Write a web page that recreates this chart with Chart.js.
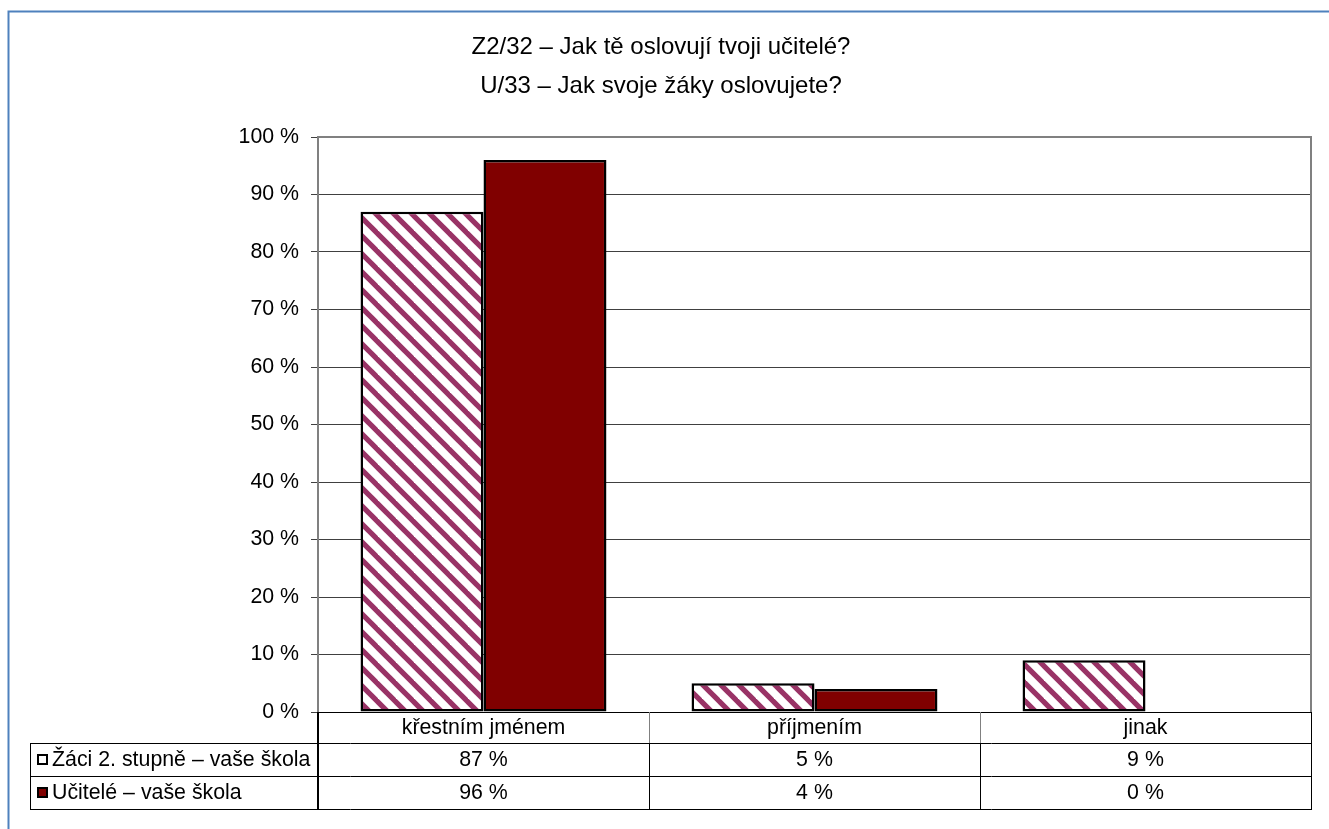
<!DOCTYPE html>
<html>
<head>
<meta charset="utf-8">
<script src="https://cdn.jsdelivr.net/npm/chart.js@4/dist/chart.umd.min.js"></script>
<style>
  html, body { margin: 0; padding: 0; background: #ffffff; }
  canvas { display: block; }
</style>
</head>
<body>
<canvas id="c" width="1329" height="829"></canvas>
<script>
// ---- data ----
const titleLines = ['Z2/32 – Jak tě oslovují tvoji učitelé?', 'U/33 – Jak svoje žáky oslovujete?'];
const categories = ['křestním jménem', 'příjmením', 'jinak'];
const seriesNames = ['Žáci 2. stupně – vaše škola', 'Učitelé – vaše škola'];
const zaciValues = [87, 5, 9];
const uciteleValues = [96, 4, 0];
const yTicks = [0, 10, 20, 30, 40, 50, 60, 70, 80, 90, 100];

// ---- styles ----
const FONT = 'Liberation Sans, Arial, sans-serif';
const FS = 21.33;
const stripeColor = '#993366';
const solidColor = '#800000';

function makePattern() {
  const p = document.createElement('canvas');
  const s = 18;
  p.width = s; p.height = s;
  const g = p.getContext('2d');
  g.fillStyle = '#ffffff';
  g.fillRect(0, 0, s, s);
  g.strokeStyle = stripeColor;
  g.lineWidth = 5.2;
  for (const off of [-s, 0, s]) {
    g.beginPath();
    g.moveTo(off - 2, -2);
    g.lineTo(off + s + 2, s + 2);
    g.stroke();
  }
  return g.createPattern(p, 'repeat');
}
const hatch = makePattern();

const CAT_ROW_H = 31;
const ROW_H = 33;
const TABLE_LEFT = 30;

const tablePlugin = {
  id: 'tablePlugin',
  beforeDraw(chart) {
    const c = chart.ctx;
    c.save();
    c.fillStyle = '#ffffff';
    c.fillRect(0, 0, chart.width, chart.height);
    c.restore();
  },
  afterDraw(chart) {
    const c = chart.ctx;
    const a = chart.chartArea;
    const xs = chart.scales.x;
    const n = categories.length;
    const catW = (a.right - a.left) / n;
    const y0 = a.bottom;
    const y1 = y0 + CAT_ROW_H;
    const y2 = y1 + ROW_H;
    const y3 = y2 + ROW_H;
    c.save();
    // outer blue border (chart frame)
    c.strokeStyle = '#4F81BD';
    c.lineWidth = 2;
    c.strokeRect(8.5, 11.5, chart.width + 20, chart.height + 20);

    // plot area border top/right
    c.strokeStyle = '#808080';
    c.lineWidth = 2;
    c.beginPath();
    c.moveTo(a.left, a.top);
    c.lineTo(a.right, a.top);
    c.lineTo(a.right, a.bottom);
    c.stroke();

    // category row separators (gray)
    c.strokeStyle = '#808080';
    c.lineWidth = 1;
    for (let i = 1; i < n; i++) {
      const x = Math.round(a.left + i * catW) + 0.5;
      c.beginPath(); c.moveTo(x, y0); c.lineTo(x, y1); c.stroke();
    }
    // black table lines
    c.strokeStyle = '#000000';
    c.lineWidth = 1;
    for (const y of [y1, y2, y3]) {
      c.beginPath(); c.moveTo(TABLE_LEFT, Math.round(y) + 0.5); c.lineTo(a.right + 1, Math.round(y) + 0.5); c.stroke();
    }
    c.beginPath(); c.moveTo(TABLE_LEFT + 0.5, y1); c.lineTo(TABLE_LEFT + 0.5, y3); c.stroke();
    for (let i = 1; i < n; i++) {
      const x = Math.round(a.left + i * catW) + 0.5;
      c.beginPath(); c.moveTo(x, y1); c.lineTo(x, y3); c.stroke();
    }
    c.beginPath(); c.moveTo(Math.round(a.right) + 0.5, y0); c.lineTo(Math.round(a.right) + 0.5, y3 + 0.5); c.stroke();
    c.lineWidth = 2;
    c.beginPath(); c.moveTo(a.left, y0); c.lineTo(a.left, y3 + 1); c.stroke();

    // text
    c.fillStyle = '#000000';
    c.font = FS + 'px ' + FONT;
    c.textAlign = 'center';
    c.textBaseline = 'middle';
    const rows = [zaciValues, uciteleValues];
    for (let i = 0; i < n; i++) {
      const cx = xs.getPixelForValue(i);
      c.fillText(categories[i], cx, (y0 + y1) / 2 + 1);
      rows.forEach((vals, r) => {
        const yy = r === 0 ? (y1 + y2) / 2 : (y2 + y3) / 2;
        c.fillText(vals[i] + ' %', cx, yy + 1);
      });
    }
    // legend keys
    c.textAlign = 'left';
    const keyFills = [null, solidColor];
    seriesNames.forEach((name, r) => {
      const yy = r === 0 ? (y1 + y2) / 2 : (y2 + y3) / 2;
      const kx = 37, ks = 11;
      const ky = Math.round(yy - ks / 2);
      c.fillStyle = keyFills[r] || '#ffffff';
      c.fillRect(kx, ky, ks, ks);
      c.strokeStyle = '#000000';
      c.lineWidth = 2;
      c.strokeRect(kx + 1, ky + 1, ks - 2, ks - 2);
      c.fillStyle = '#000000';
      c.fillText(name, 52, yy + 1);
    });
    c.restore();
  }
};

new Chart(document.getElementById('c'), {
  type: 'bar',
  data: {
    labels: categories,
    datasets: [
      {
        label: seriesNames[0],
        data: zaciValues,
        backgroundColor: hatch,
        borderColor: '#000000',
        borderWidth: 2.5,
        borderSkipped: false
      },
      {
        label: seriesNames[1],
        data: uciteleValues,
        backgroundColor: solidColor,
        borderColor: '#000000',
        borderWidth: 2.5,
        borderSkipped: false
      }
    ]
  },
  options: {
    responsive: false,
    animation: false,
    devicePixelRatio: 1,
    categoryPercentage: 0.743,
    barPercentage: 1.0,
    layout: { padding: { left: 11, right: 18, top: 0, bottom: 0 } },
    plugins: {
      legend: { display: false },
      tooltip: { enabled: false },
      title: {
        display: true,
        text: titleLines,
        color: '#000000',
        font: { family: FONT, size: 24, weight: 'normal', lineHeight: 1.6 },
        padding: { top: 28.3, bottom: 31.9 }
      }
    },
    scales: {
      x: {
        grid: { display: false, drawTicks: false },
        ticks: { display: false },
        border: { display: true, color: '#000000', width: 1 },
        afterFit(scale) { scale.height = 117; }
      },
      y: {
        min: 0,
        max: 100,
        afterBuildTicks(scale) { scale.ticks = yTicks.map(v => ({ value: v })); },
        ticks: {
          color: '#000000',
          font: { family: FONT, size: FS },
          padding: 12,
          callback: v => v + ' %'
        },
        grid: { color: '#404040', lineWidth: 1, tickLength: 7, drawTicks: true },
        border: { display: true, color: '#808080', width: 2 },
        afterFit(scale) { scale.width = 307; }
      }
    }
  },
  plugins: [tablePlugin]
});
</script>
</body>
</html>
